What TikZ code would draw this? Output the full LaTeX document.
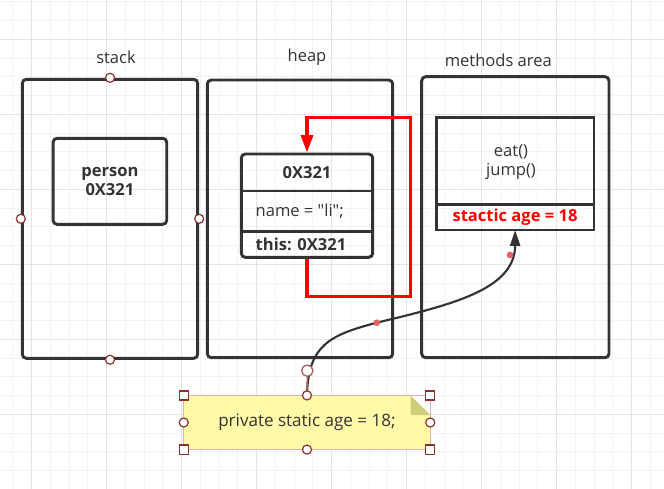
\documentclass[tikz,border=0pt]{standalone}
\usepackage{fontspec}
\setmainfont{Open Sans}[Ligatures=TeXOff]
\usetikzlibrary{arrows.meta,positioning}
\definecolor{ink}{HTML}{333333}
\definecolor{handle}{HTML}{8E2F2F}
\definecolor{notefill}{HTML}{FFFAA8}
\definecolor{notefold}{HTML}{CFCD7A}
\definecolor{noteline}{HTML}{D6B4B4}
\definecolor{gridminor}{HTML}{F3F3F3}
\definecolor{gridmajor}{HTML}{E4E4E4}
\definecolor{dotred}{HTML}{E06262}

\begin{document}
\begin{tikzpicture}[x=0.75pt,y=-0.75pt,
  every node/.style={text=ink, font=\fontsize{12.4}{14.25}\selectfont},
  sized/.style 2 args={minimum width=#1*0.75pt, minimum height=#2*0.75pt},
  area/.style={draw=ink, line width=2.2pt, rounded corners=3pt, inner sep=0pt},
  cell/.style={draw=ink, line width=2.2pt, inner sep=0pt},
  bold/.style={font=\fontsize{12.4}{14.25}\selectfont\bfseries},
  redline/.style={draw=red, line width=2.3pt},
  link/.style={draw=ink, line width=1.6pt},
  handle/.style={circle, draw=handle, fill=white, line width=0.9pt, inner sep=0pt, minimum size=6.8pt},
  grip/.style={rectangle, draw=handle, fill=white, line width=0.9pt, inner sep=0pt, minimum size=6.8pt},
  dot/.style={circle, fill=dotred, inner sep=0pt, minimum size=5pt}]
\useasboundingbox (0,0) rectangle (664,489);
\fill[white] (0,0) rectangle (664,489);
% grid
\foreach \x in {12.95,31.7,...,664} \draw[gridminor, line width=0.75pt] (\x,0) -- (\x,489);
\foreach \y in {1.8,20.55,...,489} \draw[gridminor, line width=0.75pt] (0,\y) -- (664,\y);
\foreach \x in {31.7,106.7,...,664} \draw[gridmajor, line width=0.75pt] (\x,0) -- (\x,489);
\foreach \y in {39.3,114.3,...,489} \draw[gridmajor, line width=0.75pt] (0,\y) -- (664,\y);

% three areas
\node[area, sized={175.4}{279}] (stack) at (110,218.8) {};
\node[area, sized={185.4}{277.7}] (heap) at (300,218.85) {};
\node[area, sized={187.3}{281}] (methods) at (515.35,217.2) {};
\node (stacklbl) at (116,57.3) {stack};
\node (heaplbl) at (307,57.3) {heap};
\node (methodslbl) at (498.3,60.7) {methods area};

% stack
\node[area, sized={113.7}{86}, bold, align=center] (person) at (109.9,181.3) {person\\0X321};

% heap object
\node[area, sized={131.4}{103.3}] (obj) at (307,205.65) {};
\draw[ink, line width=2.2pt] (241.3,191) -- (372.7,191);
\draw[ink, line width=2.2pt] (241.3,231.7) -- (372.7,231.7);
\node[bold] (objaddr) at (307,172.7) {0X321};
\node[anchor=west] (objname) at (251,211) {name = "li";};
\node[bold, anchor=west] (objthis) at (251,244.3) {this: 0X321};
\coordinate (loop) at (410.7,117.3);
\draw[redline, -{Triangle[length=13pt,width=9pt]}] (obj.south) -- ++(0,37.7) -| (loop) -| (obj.north);

% methods area
\node[cell, sized={157.7}{112.7}] (cls) at (515.15,173.65) {};
\node[anchor=south, sized={157.7}{25.3}, inner sep=0pt] (sage) at (515.15,230) {};
\draw[ink, line width=2.2pt] (436.3,204.7) -- (594,204.7);
\node[align=center] (meth) at (511,162.5) {eat()\\jump()};
\node[bold, text=red] (sagetext) at (515,217.3) {stactic age = 18};

% note
\node[sized={246}{53.6}, inner sep=0pt] (note) at (307,422.5) {};
\fill[notefill] (184,395.7) -- (410.7,395.7) -- (430,415) -- (430,449.3) -- (184,449.3) -- cycle;
\fill[notefold] (410.7,395.7) -- (410.7,415) -- (430,415) -- cycle;
\draw[noteline, line width=0.8pt] (note.north west) rectangle (note.south east);
\node (notetext) at (307,422.7) {\fontsize{12.8}{14}\selectfont private static age = 18;};

% link from note to the static field
\draw[link, -{Triangle[length=12pt,width=7.5pt]}] (note.north) .. controls (308,345) and (330,335) .. (376.7,322.7) .. controls (450,305) and (515,290) .. (sage.south);
\node[dot] (mid1) at (376.7,322.7) {};
\node[dot] (mid2) at (510,255) {};
\node[circle, draw=handle!75, fill=white, line width=1pt, inner sep=0pt, minimum size=8.5pt] (rot) at (307.3,370.7) {};
\draw[handle!75, line width=1pt] (rot) -- (note.north);

% handles
\foreach \a in {north,south,east,west} \node[handle] (sh-\a) at (stack.\a) {};
\foreach \a in {north,south,east,west} \node[handle] (nh-\a) at (note.\a) {};
\foreach \a in {north west,north east,south west,south east} \node[grip] (ng-\a) at (note.\a) {};
\end{tikzpicture}
\end{document}
